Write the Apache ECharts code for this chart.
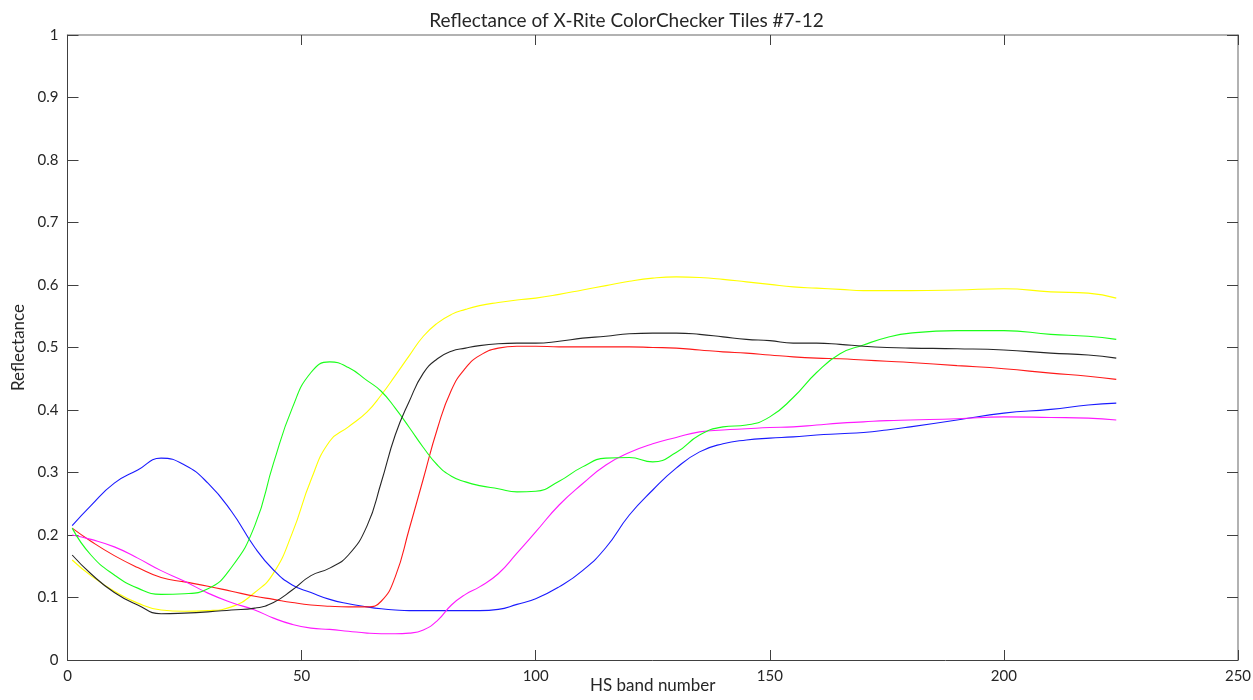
<!DOCTYPE html>
<html>
<head>
<meta charset="utf-8">
<script src="https://cdn.jsdelivr.net/npm/echarts@6/dist/echarts.min.js"></script>
<style>html,body{margin:0;padding:0;background:#fff;}#c{width:1253px;height:700px;}</style>
</head>
<body>
<div id="c"></div>
<script>
const bands = [1,5,10,15,20,25,30,35,40,44,48,52,56,60,64,67,70,73,76,79,82,85,88,92,96,100,105,110,115,120,125,130,135,140,145,150,155,160,165,170,175,180,190,200,210,218,224];

const blue = [0.215,0.247,0.283,0.304,0.323,0.312,0.283,0.238,0.18,0.144,0.12,0.108,0.097,0.09,0.085,0.082,0.080,0.079,0.079,0.079,0.079,0.079,0.079,0.081,0.089,0.098,0.117,0.143,0.18,0.232,0.272,0.307,0.333,0.346,0.352,0.355,0.357,0.360,0.362,0.364,0.368,0.373,0.384,0.395,0.401,0.408,0.411];
const magenta = [0.2,0.193,0.181,0.163,0.143,0.126,0.107,0.092,0.08,0.067,0.057,0.051,0.049,0.046,0.043,0.042,0.042,0.043,0.048,0.063,0.088,0.105,0.117,0.138,0.171,0.205,0.248,0.282,0.312,0.332,0.346,0.356,0.365,0.368,0.370,0.372,0.373,0.376,0.379,0.381,0.383,0.384,0.386,0.389,0.388,0.387,0.384];
const red = [0.211,0.19,0.167,0.148,0.132,0.125,0.118,0.11,0.102,0.097,0.092,0.088,0.086,0.085,0.085,0.094,0.133,0.21,0.29,0.37,0.432,0.467,0.487,0.499,0.502,0.502,0.501,0.501,0.501,0.501,0.5,0.499,0.496,0.493,0.491,0.488,0.485,0.483,0.482,0.48,0.478,0.476,0.471,0.466,0.459,0.454,0.449];
const black = [0.168,0.138,0.108,0.088,0.074,0.075,0.077,0.08,0.083,0.092,0.112,0.135,0.147,0.168,0.215,0.284,0.36,0.414,0.459,0.482,0.494,0.499,0.503,0.506,0.507,0.507,0.51,0.515,0.518,0.522,0.523,0.523,0.521,0.517,0.513,0.511,0.507,0.507,0.505,0.502,0.5,0.499,0.498,0.496,0.491,0.488,0.483];
const yellow = [0.16,0.135,0.11,0.091,0.08,0.078,0.079,0.085,0.108,0.139,0.203,0.288,0.35,0.373,0.397,0.424,0.455,0.487,0.518,0.539,0.553,0.561,0.567,0.572,0.576,0.579,0.585,0.592,0.599,0.606,0.611,0.613,0.612,0.609,0.605,0.601,0.597,0.595,0.593,0.591,0.591,0.591,0.592,0.594,0.589,0.587,0.579];
const green = [0.211,0.168,0.136,0.115,0.105,0.106,0.114,0.148,0.215,0.315,0.403,0.46,0.477,0.468,0.447,0.43,0.403,0.372,0.34,0.312,0.294,0.285,0.279,0.274,0.269,0.27,0.286,0.309,0.323,0.324,0.317,0.332,0.36,0.373,0.376,0.389,0.42,0.46,0.49,0.504,0.516,0.523,0.527,0.527,0.521,0.518,0.513];

const seriesDefs = [
  {name:'Tile 7', vals: yellow, color:'#ffff00'},
  {name:'Tile 8', vals: blue, color:'#1a1aff'},
  {name:'Tile 9', vals: red, color:'#ff1a1a'},
  {name:'Tile 10', vals: magenta, color:'#ff1aff'},
  {name:'Tile 11', vals: green, color:'#1aff1a'},
  {name:'Tile 12', vals: black, color:'#262626'}
];

const FONT = 'Lato';
const chart = echarts.init(document.getElementById('c'), null, {renderer:'canvas'});
const tickStyle = {color:'#262626', fontFamily: FONT, fontSize: 15};

chart.setOption({
  animation:false,
  backgroundColor:'#fff',
  title:{text:'Reflectance of X-Rite ColorChecker Tiles #7-12', left:'center', top:6,
    textStyle:{fontFamily:FONT, fontSize:19, fontWeight:'normal', color:'#262626'}},
  grid:{left:67.5, right:15, top:35, bottom:40, containLabel:false, outerBoundsMode:'none'},
  xAxis:[
    {type:'value', min:0, max:250, interval:50, position:'bottom',
     name:'HS band number', nameLocation:'middle', nameGap:17, nameMoveOverlap:false,
     nameTextStyle:{fontFamily:FONT, fontSize:17, color:'#262626'},
     axisLine:{show:true, lineStyle:{color:'#404040', width:1}},
     axisTick:{show:true, inside:true, length:10, lineStyle:{color:'#404040'}},
     axisLabel:{...tickStyle, margin:9, formatter:v=>String(v)},
     splitLine:{show:false}},
    {type:'value', min:0, max:250, interval:50, position:'top',
     axisLine:{show:true, onZero:false, lineStyle:{color:'#999', width:1.5}},
     axisTick:{show:true, inside:true, length:10, lineStyle:{color:'#404040'}},
     axisLabel:{show:false}, splitLine:{show:false}}
  ],
  yAxis:[
    {type:'value', min:0, max:1, interval:0.1, position:'left',
     name:'Reflectance', nameLocation:'middle', nameGap:40, nameMoveOverlap:false,
     nameTextStyle:{fontFamily:FONT, fontSize:17, color:'#262626'},
     axisLine:{show:true, lineStyle:{color:'#404040', width:1}},
     axisTick:{show:true, inside:true, length:11, lineStyle:{color:'#404040'}},
     axisLabel:{...tickStyle, margin:9, formatter:v=>String(Math.round(v*10)/10)},
     splitLine:{show:false}},
    {type:'value', min:0, max:1, interval:0.1, position:'right',
     axisLine:{show:true, onZero:false, lineStyle:{color:'#999', width:1.5}},
     axisTick:{show:true, inside:true, length:11, lineStyle:{color:'#404040'}},
     axisLabel:{show:false}, splitLine:{show:false}}
  ],
  series: seriesDefs.map(s=>({
    name:s.name, type:'line', xAxisIndex:0, yAxisIndex:0,
    data: bands.map((b,i)=>[b, s.vals[i]]),
    showSymbol:false, smooth:0.5,
    lineStyle:{color:s.color, width:1.1}, itemStyle:{color:s.color}
  }))
});
</script>
</body>
</html>
